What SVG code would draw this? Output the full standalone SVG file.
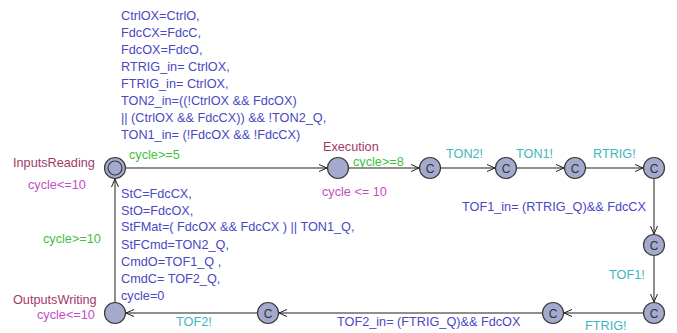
<svg xmlns="http://www.w3.org/2000/svg" width="677" height="333" viewBox="0 0 677 333">
  <style>
    text { font-family: "Liberation Sans", Arial, sans-serif; font-size: 12.7px; }
    .loc { fill: #a4aacd; stroke: #3a3a3a; stroke-width: 1.2; }
    .c { fill: #333; font-size: 12px; text-anchor: middle; }
    .name { fill: #a03a6a; }
    .inv { fill: #c24ec4; }
    .guard { fill: #3fbf3f; }
    .sync { fill: #3fb6bd; }
    .assign { fill: #4a48c4; }
    .edge { stroke: #1e1e1e; stroke-width: 1; fill: none; marker-end: url(#arr); }
  </style>
  <defs>
    <marker id="arr" markerWidth="10" markerHeight="10" refX="8" refY="4" orient="auto" markerUnits="userSpaceOnUse">
      <path d="M0,0.5 L8,4 L0,7.5" fill="none" stroke="#1e1e1e" stroke-width="1"/>
    </marker>
  </defs>

  <rect width="677" height="333" fill="#ffffff"/>

  <!-- transitions -->
  <g id="edges">
    <line class="edge" x1="126" y1="168" x2="327" y2="168"/>
    <line class="edge" x1="349" y1="168" x2="419" y2="168"/>
    <line class="edge" x1="441" y1="168" x2="495" y2="168"/>
    <line class="edge" x1="517" y1="168" x2="564" y2="168"/>
    <line class="edge" x1="586" y1="168" x2="643" y2="168"/>
    <line class="edge" x1="654" y1="179" x2="654" y2="234"/>
    <line class="edge" x1="654" y1="256" x2="654" y2="302"/>
    <line class="edge" x1="643" y1="313" x2="564" y2="313"/>
    <line class="edge" x1="542" y1="313" x2="279" y2="313"/>
    <line class="edge" x1="257" y1="313" x2="126" y2="313"/>
    <line class="edge" x1="115" y1="302" x2="115" y2="179"/>

    <!-- InputsReading -> Execution -->
    <text class="assign" x="121" y="20">CtrlOX=CtrlO,</text>
    <text class="assign" x="121" y="37">FdcCX=FdcC,</text>
    <text class="assign" x="121" y="54">FdcOX=FdcO,</text>
    <text class="assign" x="121" y="71">RTRIG_in= CtrlOX,</text>
    <text class="assign" x="121" y="88">FTRIG_in= CtrlOX,</text>
    <text class="assign" x="121" y="105">TON2_in=((!CtrlOX &amp;&amp; FdcOX)</text>
    <text class="assign" x="121" y="122">|| (CtrlOX &amp;&amp; FdcCX)) &amp;&amp; !TON2_Q,</text>
    <text class="assign" x="121" y="139">TON1_in= (!FdcOX &amp;&amp; !FdcCX)</text>
    <text class="guard" x="129" y="159">cycle&gt;=5</text>

    <text class="guard" x="353" y="166">cycle&gt;=8</text>
    <text class="sync" x="446" y="158">TON2!</text>
    <text class="sync" x="516" y="158">TON1!</text>
    <text class="sync" x="593" y="158">RTRIG!</text>
    <text class="assign" x="462" y="211">TOF1_in= (RTRIG_Q)&amp;&amp; FdcCX</text>
    <text class="sync" x="609" y="279">TOF1!</text>
    <text class="sync" x="585" y="330">FTRIG!</text>
    <text class="assign" x="337" y="326">TOF2_in= (FTRIG_Q)&amp;&amp; FdcOX</text>
    <text class="sync" x="176" y="326">TOF2!</text>

    <!-- OutputsWriting -> InputsReading -->
    <text class="guard" x="43" y="243">cycle&gt;=10</text>
    <text class="assign" x="121" y="198">StC=FdcCX,</text>
    <text class="assign" x="121" y="214.5">StO=FdcOX,</text>
    <text class="assign" x="121" y="231">StFMat=( FdcOX &amp;&amp; FdcCX ) || TON1_Q,</text>
    <text class="assign" x="121" y="248.5">StFCmd=TON2_Q,</text>
    <text class="assign" x="121" y="265.5">CmdO=TOF1_Q ,</text>
    <text class="assign" x="121" y="283">CmdC= TOF2_Q,</text>
    <text class="assign" x="121" y="299.5">cycle=0</text>
  </g>

  <!-- locations -->
  <g id="InputsReading">
    <circle class="loc" cx="115" cy="168" r="10.5"/>
    <circle class="loc" cx="115" cy="168" r="7"/>
    <text class="name" x="13" y="166.5">InputsReading</text>
    <text class="inv" x="28" y="188.5">cycle&lt;=10</text>
  </g>
  <g id="Execution">
    <circle class="loc" cx="338" cy="168" r="10.5"/>
    <text class="name" x="323" y="151">Execution</text>
    <text class="inv" x="322" y="196">cycle &lt;= 10</text>
  </g>
  <g id="C1">
    <circle class="loc" cx="430" cy="168" r="10.5"/>
    <text class="c" x="430" y="172.5">C</text>
  </g>
  <g id="C2">
    <circle class="loc" cx="506" cy="168" r="10.5"/>
    <text class="c" x="506" y="172.5">C</text>
  </g>
  <g id="C3">
    <circle class="loc" cx="575" cy="168" r="10.5"/>
    <text class="c" x="575" y="172.5">C</text>
  </g>
  <g id="C4">
    <circle class="loc" cx="654" cy="168" r="10.5"/>
    <text class="c" x="654" y="172.5">C</text>
  </g>
  <g id="C5">
    <circle class="loc" cx="654" cy="245" r="10.5"/>
    <text class="c" x="654" y="249.5">C</text>
  </g>
  <g id="C6">
    <circle class="loc" cx="654" cy="313" r="10.5"/>
    <text class="c" x="654" y="317.5">C</text>
  </g>
  <g id="C7">
    <circle class="loc" cx="553" cy="313" r="10.5"/>
    <text class="c" x="553" y="317.5">C</text>
  </g>
  <g id="C8">
    <circle class="loc" cx="268" cy="313" r="10.5"/>
    <text class="c" x="268" y="317.5">C</text>
  </g>
  <g id="OutputsWriting">
    <circle class="loc" cx="115" cy="313" r="10.5"/>
    <text class="name" x="13" y="304">OutputsWriting</text>
    <text class="inv" x="37" y="318.5">cycle&lt;=10</text>
  </g>
</svg>
